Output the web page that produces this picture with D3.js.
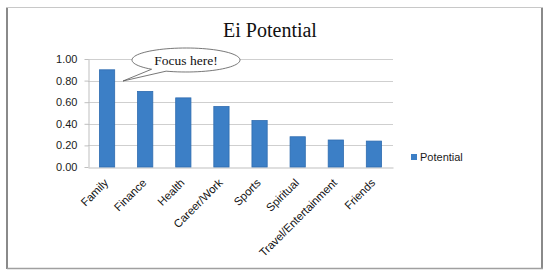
<!DOCTYPE html>
<html><head><meta charset="utf-8">
<script src="https://cdn.jsdelivr.net/npm/d3@7"></script>
<style>body{margin:0;background:#fff}svg{display:block}</style>
</head><body>
<script>
const categories = ["Family","Finance","Health","Career/Work","Sports","Spiritual","Travel/Entertainment","Friends"];
const potential = [0.90,0.70,0.64,0.56,0.43,0.28,0.25,0.24];
const yTicks = [0,0.2,0.4,0.6,0.8,1.0];
const title = "Ei Potential";
const seriesName = "Potential";
const callout = "Focus here!";

(function(){
const W=550,H=279;
const svg=d3.select("body").append("svg").attr("width",W).attr("height",H);
svg.append("rect").attr("width",W).attr("height",H).attr("fill","#fff");
// frame
svg.append("rect").attr("x",6.5).attr("y",7.5).attr("width",536).attr("height",261)
  .attr("fill","#fff").attr("stroke","#c8c8c8");
svg.append("line").attr("x1",7).attr("x2",7).attr("y1",8).attr("y2",269).attr("stroke","#8a8a8a").attr("stroke-width",2);
svg.append("line").attr("x1",542).attr("x2",542).attr("y1",8).attr("y2",269).attr("stroke","#8a8a8a").attr("stroke-width",2);
svg.append("line").attr("x1",7).attr("x2",543).attr("y1",268.5).attr("y2",268.5).attr("stroke","#a0a0a0").attr("stroke-width",1.5);

const pl=88,pr=393,pt=59,pb=167;
const x=d3.scaleBand().domain(categories).range([pl,pr]).paddingInner(0.6).paddingOuter(0.3);
const y=d3.scaleLinear().domain([0,1]).range([pb,pt]);

// gridlines
svg.append("g").selectAll("line").data(yTicks.filter(d=>d>0)).join("line")
  .attr("x1",pl).attr("x2",pr).attr("y1",d=>Math.round(y(d))+0.5).attr("y2",d=>Math.round(y(d))+0.5)
  .attr("stroke","#cfcfcf");

// y axis
const ya=svg.append("g").attr("transform",`translate(${pl+0.5},0)`)
  .call(d3.axisLeft(y).tickValues(yTicks).tickFormat(d3.format(".2f")).tickSize(4).tickSizeOuter(0));
ya.select(".domain").attr("stroke","#bfbfbf");
ya.selectAll(".tick line").attr("stroke","#bfbfbf");
ya.selectAll(".tick text").attr("font-family","Liberation Sans, Arial, sans-serif").attr("font-size",11).attr("fill","#1a1a1a").attr("x",-11);

// x axis
const xa=svg.append("g").attr("transform",`translate(0,${pb+0.5})`)
  .call(d3.axisBottom(x).tickSize(0).tickSizeOuter(0));
xa.select(".domain").attr("stroke","#bfbfbf");
xa.selectAll(".tick text").attr("font-family","Liberation Sans, Arial, sans-serif").attr("font-size",11.3).attr("fill","#111")
  .attr("text-anchor","end").attr("dy",0).attr("y",0)
  .attr("transform","translate(2,16) rotate(-45)");

// bars
svg.append("g").selectAll("rect").data(potential).join("rect")
  .attr("x",(d,i)=>x(categories[i])).attr("width",x.bandwidth())
  .attr("y",d=>y(d)).attr("height",d=>pb-y(d))
  .attr("fill","#3c7fc6").attr("stroke","#2f6cb0").attr("stroke-width",0.8);

// callout
const cx=186,cy=60,rx=54,ry=12;
const g=svg.append("g");
const a1=Math.PI*0.62, a2=Math.PI*0.72;
const steps=80;
const pts=[];
for(let k=0;k<=steps;k++){
  const t=a2+(2*Math.PI-(a2-a1))*k/steps;
  pts.push([cx+rx*Math.cos(t),cy+ry*Math.sin(t)]);
}
const dpath="M"+pts.map(p=>p.join(",")).join("L")+`L${123},${81}Z`;
g.append("path").attr("d",dpath).attr("fill","#fff").attr("stroke","#555").attr("stroke-width",0.8);
g.append("text").attr("x",cx).attr("y",cy+4.5).attr("text-anchor","middle")
  .attr("font-family","Liberation Serif, DejaVu Serif, serif").attr("font-size",13.5).attr("fill","#111").text(callout);

// title
svg.append("text").attr("x",270).attr("y",37).attr("text-anchor","middle")
  .attr("font-family","Liberation Serif, DejaVu Serif, serif").attr("font-size",20).attr("fill","#111").text(title);

// legend
svg.append("rect").attr("x",411).attr("y",154).attr("width",6).attr("height",6).attr("fill","#3c7fc6");
svg.append("text").attr("x",420).attr("y",161).attr("font-family","Liberation Sans, Arial, sans-serif").attr("font-size",11).attr("fill","#1a1a1a").text(seriesName);
})();
</script>
</body></html>
